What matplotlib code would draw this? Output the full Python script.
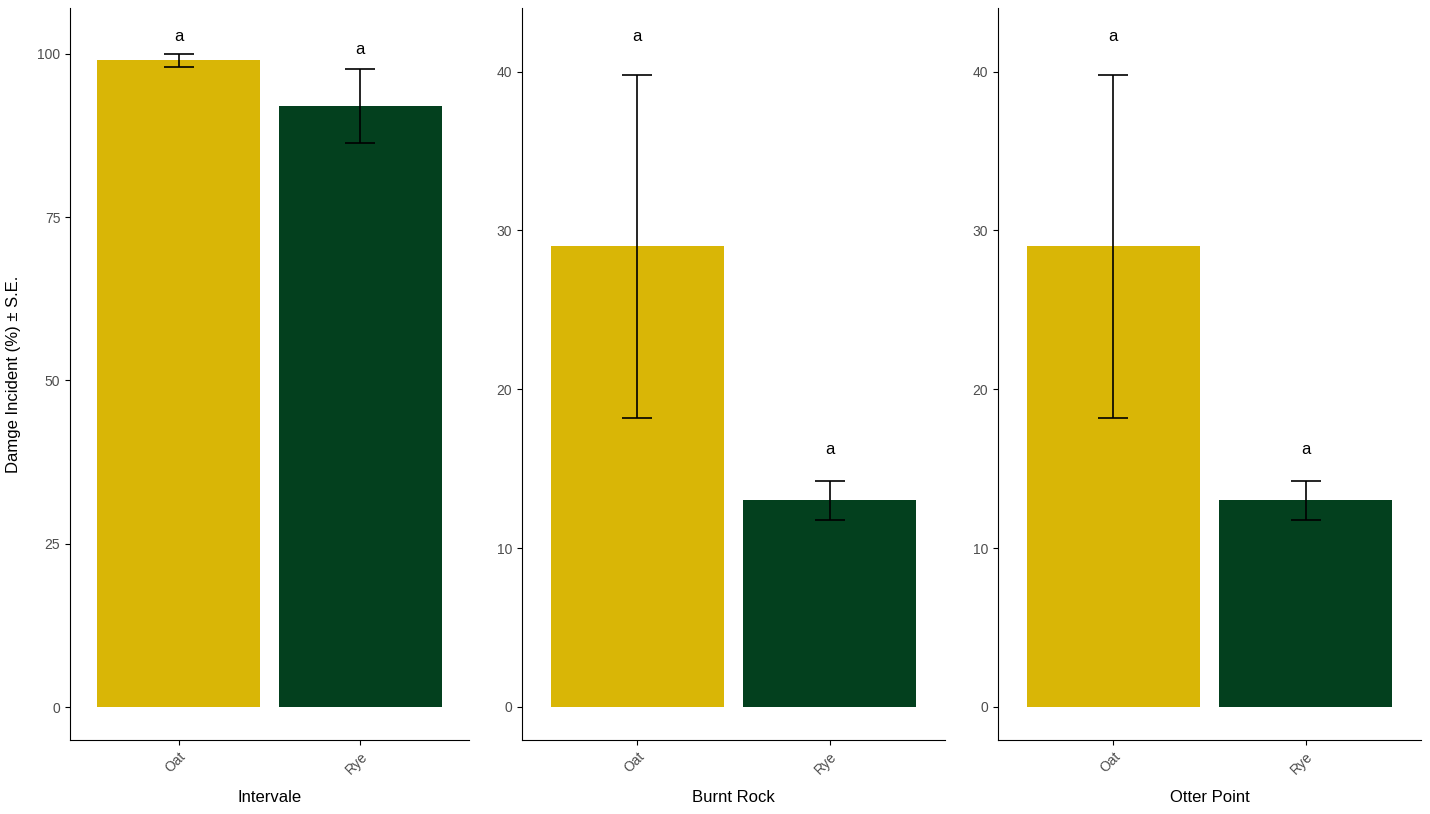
import matplotlib
matplotlib.use("Agg")
import matplotlib.pyplot as plt
plt.rcParams["font.family"] = "Liberation Sans"

sites = ["Intervale", "Burnt Rock", "Otter Point"]
crops = ["Oat", "Rye"]
means = [[99, 92], [29, 13], [29, 13]]
ses = [[1.0, 5.6], [10.8, 1.2], [10.8, 1.2]]
letters = [["a", "a"], ["a", "a"], ["a", "a"]]
letter_y = [[102.6, 100.6], [42.2, 16.2], [42.2, 16.2]]
yticks = [[0, 25, 50, 75, 100], [0, 10, 20, 30, 40], [0, 10, 20, 30, 40]]
ylims = [(-5.05, 107), (-2.08, 44), (-2.08, 44)]
colors = ["#D9B606", "#03401E"]

fig = plt.figure(figsize=(14.3, 8.14), dpi=100)
lefts = [70, 522, 998]
rights = [469, 945, 1421]
W, H = 1430, 814
for i in range(3):
    ax = fig.add_axes([lefts[i] / W, (H - 740) / H, (rights[i] - lefts[i]) / W, (740 - 8) / H])
    x = [1, 2]
    ax.bar(x, means[i], width=0.9, color=colors)
    ax.errorbar(x, means[i], yerr=ses[i], fmt="none", ecolor="black", elinewidth=1.2, capsize=11, capthick=1.2)
    for j in range(2):
        ax.text(x[j], letter_y[i][j], letters[i][j], ha="center", va="center", fontsize=12)
    ax.set_xlim(0.4, 2.6)
    ax.set_ylim(*ylims[i])
    ax.set_yticks(yticks[i])
    ax.set_xticks(x)
    ax.set_xticklabels(crops, rotation=45, ha="right", rotation_mode="anchor", color="#4D4D4D", fontsize=10)
    ax.tick_params(axis="y", labelcolor="#4D4D4D", labelsize=10)
    for s in ["top", "right"]:
        ax.spines[s].set_visible(False)
    fig.text((lefts[i] + rights[i]) / 2 / W, (H - 798) / H, sites[i], ha="center", va="center", fontsize=12)
    if i == 0:
        fig.text(14 / W, (H - 374) / H, "Damge Incident (%) ± S.E.", rotation=90, ha="center", va="center", fontsize=12)

fig.savefig("out.png", dpi=100)
